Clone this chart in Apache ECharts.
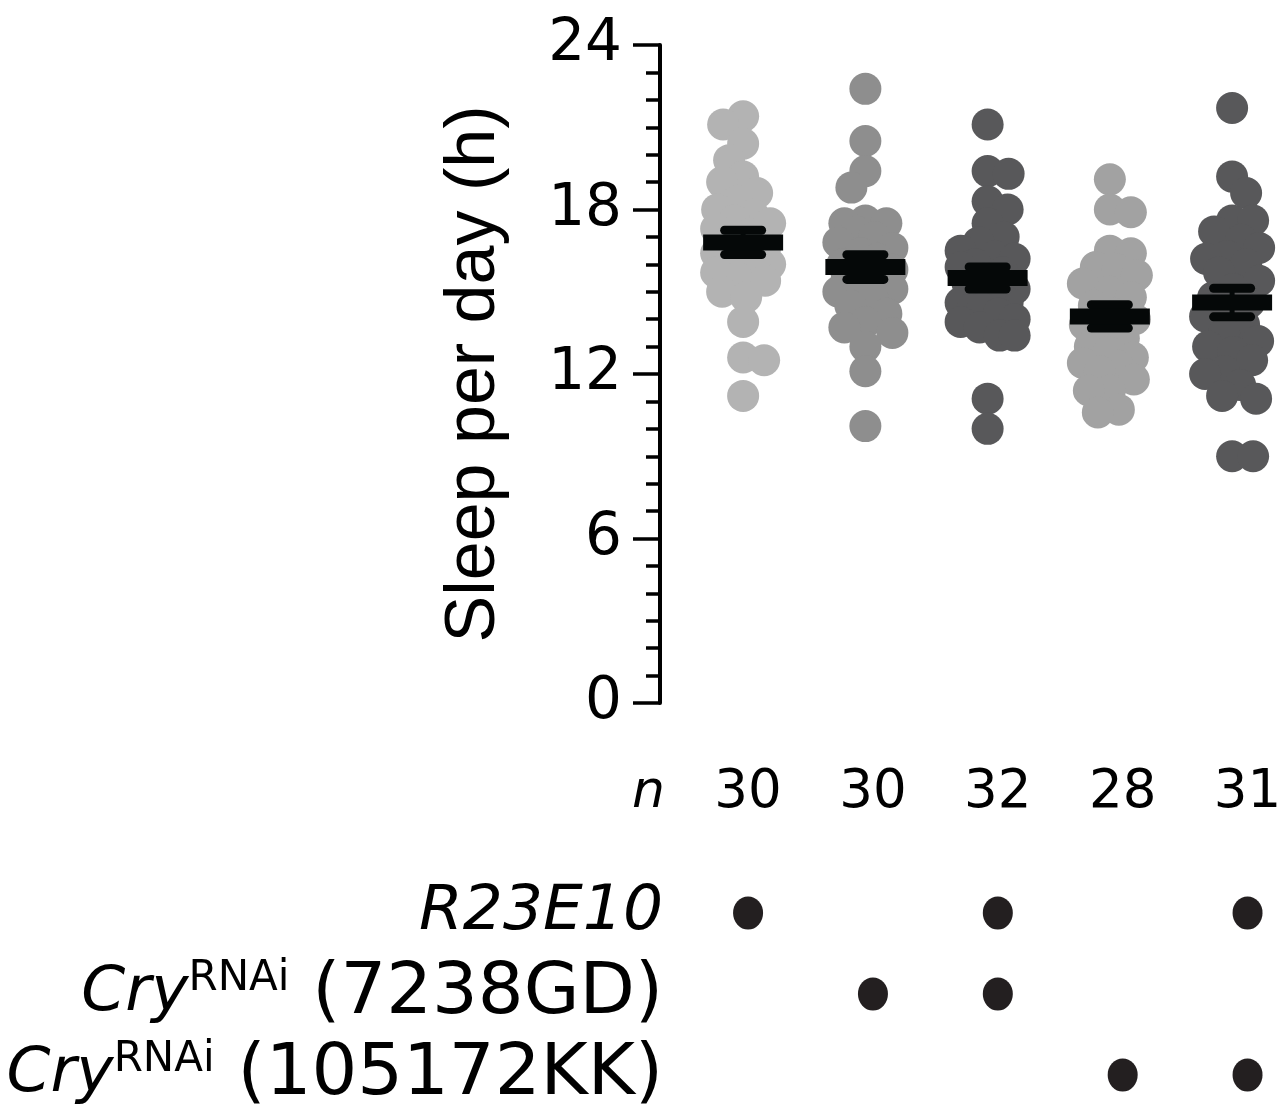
<!DOCTYPE html>
<html>
<head>
<meta charset="utf-8">
<script src="https://cdn.jsdelivr.net/npm/echarts@6/dist/echarts.min.js"></script>
<style>html,body{margin:0;padding:0;background:#fff}#c{width:1285px;height:1111px}</style>
</head>
<body>
<div id="c"></div>
<script>
// ---- data ----
const groups = ['R23E10/+', 'CryRNAi(7238GD)/+', 'R23E10>CryRNAi(7238GD)', 'CryRNAi(105172KK)/+', 'R23E10>CryRNAi(105172KK)'];
const g1 = [21.4, 21.1, 20.4, 19.8, 19.2, 19.0, 18.6, 18.3, 18.0, 17.8, 17.6, 17.5, 17.3, 17.1, 16.9, 16.6, 16.4, 16.3, 16.2, 16.0, 15.9, 15.7, 15.5, 15.4, 15.0, 14.8, 13.9, 12.6, 12.5, 11.2];
const g2 = [22.4, 20.5, 19.4, 18.8, 17.6, 17.5, 17.5, 17.2, 17.0, 16.8, 16.6, 16.4, 16.2, 16.0, 15.8, 15.6, 15.4, 15.3, 15.1, 15.1, 15.0, 14.8, 14.5, 14.2, 13.9, 13.7, 13.5, 13.0, 12.1, 10.1];
const g3 = [21.1, 19.4, 19.3, 18.3, 18.0, 17.5, 17.0, 16.8, 16.5, 16.3, 16.2, 16.0, 15.9, 15.7, 15.5, 15.3, 15.1, 15.0, 14.8, 14.6, 14.6, 14.6, 14.4, 14.4, 14.2, 14.0, 13.9, 13.7, 13.4, 13.4, 11.1, 10.0];
const g4 = [19.1, 18.0, 17.9, 16.5, 16.4, 15.9, 15.8, 15.6, 15.3, 15.0, 14.8, 14.5, 14.2, 14.0, 13.8, 13.6, 13.3, 13.0, 12.8, 12.6, 12.4, 12.3, 12.1, 11.8, 11.4, 11.4, 10.7, 10.6];
const g5 = [21.7, 19.2, 18.6, 17.6, 17.6, 17.2, 16.9, 16.6, 16.3, 16.2, 16.0, 15.7, 15.4, 15.1, 14.8, 14.6, 14.4, 14.1, 13.8, 13.5, 13.2, 13.0, 12.8, 12.5, 12.1, 12.0, 11.6, 11.2, 11.1, 9.0, 9.0];
const yTicks = [0, 6, 12, 18, 24];
const rowLabels = ['R23E10', 'Cry^RNAi (7238GD)', 'Cry^RNAi (105172KK)'];
const rowR23E10 = [1, 0, 1, 0, 1];
const rowCry7238 = [0, 1, 1, 0, 0];
const rowCry105172 = [0, 0, 0, 1, 1];

// ---- layout / style ----
const FONT = '"DejaVu Sans", "Liberation Sans", Arial, sans-serif';
const FONT_TITLE = '"Liberation Sans", Arial, Helvetica, sans-serif';
const groupColors = ['#b3b3b3', '#8e8e8e', '#58585a', '#a2a2a2', '#58585a'];
const G1 = {left: 660, top: 45, width: 621, height: 658};
const X1 = {min: 0.32, max: 5.40};
const G3 = {left: 700, width: 585};
const X3 = {min: 0.615, max: 5.30};
const dotSize = 32;

const allGroups = [g1, g2, g3, g4, g5];
const xPx = G1.width / (X1.max - X1.min);
const yPx = G1.height / (yTicks[yTicks.length - 1] - yTicks[0]);

function swarm(values, minD, maxOff) {
  const placed = [];
  return values.map((v, idx) => {
    const y = v * yPx;
    let best = 0, bestScore = -Infinity, found = false;
    for (let k = 0; k <= maxOff && !found; k++) {
      const cands = k === 0 ? [0] : (idx % 2 ? [-k, k] : [k, -k]);
      for (const s of cands) {
        let md = Infinity;
        for (const p of placed) { const d = Math.hypot(p.x - s, p.y - y); if (d < md) md = d; }
        if (md >= minD) { best = s; found = true; break; }
        if (md > bestScore) { bestScore = md; best = s; }
      }
    }
    placed.push({x: best, y: y});
    return best / xPx;
  });
}

function stats(a) {
  const n = a.length;
  const m = a.reduce((s, v) => s + v, 0) / n;
  const sd = Math.sqrt(a.reduce((s, v) => s + (v - m) * (v - m), 0) / (n - 1));
  return [m, sd / Math.sqrt(n)];
}

const scatterSeries = allGroups.map((vals, gi) => {
  const offs = swarm(vals, 21, 27);
  return {
    type: 'scatter', xAxisIndex: 0, yAxisIndex: 0,
    symbolSize: dotSize, silent: true,
    itemStyle: {color: groupColors[gi], opacity: 1},
    data: vals.map((v, i) => [gi + 1 + offs[i], v]),
    z: 2
  };
});

const meanData = allGroups.map((vals, gi) => { const s = stats(vals); return [gi + 1, s[0], s[1]]; });
const BLACK = '#050808';
const meanSeries = {
  type: 'custom', xAxisIndex: 0, yAxisIndex: 0, z: 5, silent: true,
  data: meanData,
  renderItem: function (params, api) {
    const x = api.value(0), m = api.value(1), s = api.value(2);
    const c = api.coord([x, m]);
    const t = api.coord([x, m + s]);
    const b = api.coord([x, m - s]);
    return {type: 'group', children: [
      {type: 'line', shape: {x1: c[0], y1: t[1], x2: c[0], y2: b[1]}, style: {stroke: BLACK, lineWidth: 5}},
      {type: 'line', shape: {x1: c[0] - 18.5, y1: t[1], x2: c[0] + 18.5, y2: t[1]}, style: {stroke: BLACK, lineWidth: 9, lineCap: 'round'}},
      {type: 'line', shape: {x1: c[0] - 18.5, y1: b[1], x2: c[0] + 18.5, y2: b[1]}, style: {stroke: BLACK, lineWidth: 9, lineCap: 'round'}},
      {type: 'rect', shape: {x: c[0] - 40, y: c[1] - 8, width: 80, height: 16}, style: {fill: BLACK}}
    ]};
  }
};

const nSeries = {
  type: 'custom', xAxisIndex: 1, yAxisIndex: 1, silent: true,
  data: allGroups.map((vals, gi) => [gi + 1, 0, vals.length]),
  renderItem: function (params, api) {
    const c = api.coord([api.value(0), 'n']);
    return {type: 'text', x: c[0], y: c[1], style: {text: String(api.value(2)), fontSize: 53, fontFamily: FONT, fill: '#000', align: 'center', verticalAlign: 'middle'}};
  }
};

const rows = [rowR23E10, rowCry7238, rowCry105172];
const tableData = [];
rows.forEach((r, ri) => r.forEach((on, gi) => { if (on) tableData.push([gi + 1, rowLabels[ri]]); }));
const tableSeries = {
  type: 'scatter', xAxisIndex: 2, yAxisIndex: 2, silent: true,
  symbolSize: [30, 33], itemStyle: {color: '#231f20', opacity: 1},
  data: tableData
};

const chart = echarts.init(document.getElementById('c'), null, {renderer: 'canvas'});
chart.setOption({
  animation: false,
  backgroundColor: '#fff',
  textStyle: {fontFamily: FONT},
  grid: [
    {left: G1.left, top: G1.top, width: G1.width, height: G1.height},
    {left: G3.left, top: 763, width: G3.width, height: 60},
    {left: G3.left, top: 913, width: G3.width, height: 167}
  ],
  xAxis: [
    {type: 'value', gridIndex: 0, min: X1.min, max: X1.max, show: false},
    {type: 'value', gridIndex: 1, min: X3.min, max: X3.max, show: false},
    {type: 'value', gridIndex: 2, min: X3.min, max: X3.max, show: false}
  ],
  yAxis: [
    {
      type: 'value', gridIndex: 0, min: yTicks[0], max: yTicks[yTicks.length - 1], interval: yTicks[1] - yTicks[0],
      name: 'Sleep per day (h)', nameLocation: 'middle', nameGap: 150,
      nameTextStyle: {fontSize: 70, color: '#000', fontFamily: FONT_TITLE},
      axisLine: {show: true, lineStyle: {color: '#000', width: 4}},
      axisTick: {show: true, length: 27, lineStyle: {color: '#000', width: 3.5}},
      minorTick: {show: true, splitNumber: 6, length: 14, lineStyle: {color: '#000', width: 3.5}},
      splitLine: {show: false}, minorSplitLine: {show: false},
      axisLabel: {fontSize: 58, color: '#000', margin: 38, fontFamily: FONT}
    },
    {
      type: 'category', gridIndex: 1, data: ['n'],
      axisLine: {show: false}, axisTick: {show: false}, splitLine: {show: false},
      axisLabel: {fontSize: 52, fontStyle: 'italic', color: '#000', margin: 35, fontFamily: FONT}
    },
    {
      type: 'category', gridIndex: 2, data: rowLabels, inverse: true, boundaryGap: false,
      axisLine: {show: false}, axisTick: {show: false}, splitLine: {show: false},
      axisLabel: {
        interval: 0, hideOverlap: false,
        margin: 37, color: '#000', fontSize: 70, fontFamily: FONT,
        formatter: function (v) {
          if (v.indexOf('^') >= 0) {
            const a = v.split('^');
            const sp = a[1].indexOf(' ');
            return '{it|' + a[0] + '}{sup|' + a[1].slice(0, sp) + '}{rm|' + a[1].slice(sp) + '}';
          }
          return '{it|' + v + '}';
        },
        rich: {
          it: {fontSize: 63, fontStyle: 'italic', color: '#000', fontFamily: FONT},
          sup: {fontSize: 42, color: '#000', fontFamily: FONT, verticalAlign: 'top'},
          rm: {fontSize: 72, color: '#000', fontFamily: FONT}
        }
      }
    }
  ],
  series: scatterSeries.concat([meanSeries, nSeries, tableSeries])
});
</script>
</body>
</html>
